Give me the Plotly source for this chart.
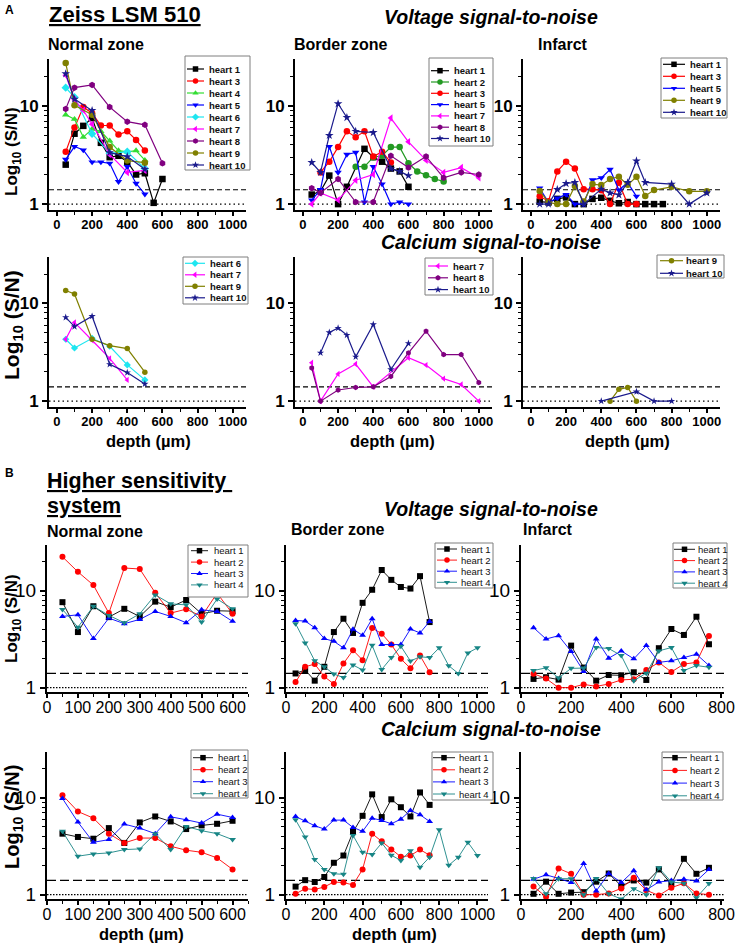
import plotly.graph_objects as go

W, H = 739, 943
FONT = "Liberation Sans, Arial, sans-serif"

# ---------------- reference levels ----------------
THRESH = 1.4
UNITY = 1.0

# ---------------- data: (A) Zeiss LSM 510 ----------------
a_volt_normal = {
    "heart 1": ([50, 100, 150, 200, 250, 300, 350, 400, 450, 500, 550, 600],
                [2.52, 5.2, 6.25, 7.5, 4.2, 3.0, 3.1, 2.7, 2.0, 2.06, 1.03, 1.8]),
    "heart 3": ([50, 100, 150, 200, 250, 300, 350, 400, 450, 500],
                [3.4, 6.0, 9.7, 8.4, 6.3, 6.3, 5.1, 5.5, 4.5, 3.5]),
    "heart 4": ([50, 100, 150, 200, 250, 300, 350, 400, 450, 500],
                [8.1, 7.3, 4.8, 5.8, 5.5, 4.4, 3.5, 3.4, 3.5, 2.8]),
    "heart 5": ([50, 100, 150, 200, 250, 300, 350, 400, 450, 500],
                [2.85, 3.85, 3.55, 2.68, 2.68, 2.6, 1.69, 2.4, 1.62, 1.26]),
    "heart 6": ([50, 100, 200, 300, 400, 500],
                [15.3, 12.2, 5.2, 3.3, 3.4, 2.3]),
    "heart 7": ([50, 100, 150, 200, 300, 400, 500],
                [20.5, 11.5, 9.0, 6.5, 3.2, 2.1, 2.2]),
    "heart 8": ([50, 100, 200, 300, 400, 500, 600],
                [9.3, 15.3, 16.3, 9.7, 6.9, 6.4, 2.6]),
    "heart 9": ([50, 100, 200, 300, 400, 500],
                [27.3, 10.1, 8.1, 3.8, 2.77, 2.64]),
    "heart 10": ([50, 100, 200, 300, 400, 500],
                 [21.2, 11.7, 8.95, 3.34, 3.04, 2.26]),
}

a_volt_border = {
    "heart 1": ([50, 100, 150, 200, 250, 350, 400, 450, 500, 550, 600],
                [1.25, 1.35, 1.95, 1.0, 1.5, 3.65, 3.0, 2.7, 2.3, 2.15, 1.5]),
    "heart 2": ([300, 350, 400, 450, 500, 550, 600, 650, 700, 750, 800],
                [2.4, 2.4, 3.0, 3.1, 3.8, 3.8, 2.6, 2.15, 1.97, 1.8, 1.7]),
    "heart 3": ([100, 150, 200, 250, 300, 350, 400, 450, 500],
                [2.1, 2.7, 3.8, 5.5, 4.8, 5.5, 3.05, 3.4, 2.65]),
    "heart 5": ([50, 100, 150, 200, 250, 300, 350, 400, 450, 500, 550, 600],
                [1.1, 1.4, 3.85, 2.1, 3.2, 3.35, 1.05, 2.4, 1.6, 1.0, 1.05, 1.0]),
    "heart 7": ([50, 100, 200, 300, 400, 500, 600, 700, 800, 900, 1000],
                [1.0, 1.3, 1.1, 1.75, 2.0, 7.5, 4.3, 2.8, 2.1, 2.35, 1.85]),
    "heart 8": ([50, 100, 200, 300, 400, 500, 600, 700, 800, 900, 1000],
                [1.45, 1.3, 1.8, 1.05, 1.05, 3.1, 2.35, 3.05, 1.85, 2.1, 2.0]),
    "heart 10": ([50, 100, 150, 200, 250, 300, 400, 500, 550, 600],
                 [2.65, 2.1, 5.0, 10.5, 7.6, 5.5, 5.35, 2.3, 2.15, 1.95]),
}

a_volt_infarct = {
    "heart 1": ([50, 100, 150, 200, 250, 300, 350, 400, 450, 500, 550, 600, 650, 700, 750],
                [1.06, 1.04, 1.13, 1.17, 1.0, 1.0, 1.13, 1.16, 1.08, 1.02, 1.05, 1.0, 1.0, 1.0, 1.0]),
    "heart 3": ([50, 100, 150, 200, 250, 300, 350, 400, 450, 500, 550, 600],
                [1.2, 1.07, 2.15, 2.7, 2.3, 1.42, 1.42, 1.38, 1.0, 1.65, 1.0, 1.0]),
    "heart 5": ([50, 100, 150, 200, 250, 300, 350, 400, 450, 500, 550, 600],
                [1.45, 1.04, 1.15, 1.25, 1.0, 1.0, 1.76, 1.85, 2.25, 1.39, 1.65, 1.2]),
    "heart 9": ([50, 100, 150, 200, 250, 300, 350, 400, 450, 500, 550, 600, 650, 700, 800, 900, 1000],
                [1.36, 1.04, 1.0, 1.0, 1.53, 1.06, 1.6, 1.56, 1.8, 1.9, 1.57, 1.9, 1.21, 1.39, 1.5, 1.35, 1.35]),
    "heart 10": ([50, 100, 150, 200, 250, 300, 400, 450, 500, 550, 600, 650, 800, 900, 1000],
                 [1.0, 1.0, 1.41, 1.62, 1.66, 1.0, 1.42, 1.3, 1.24, 1.65, 2.75, 1.66, 1.6, 1.0, 1.3]),
}

a_calc_normal = {
    "heart 6": ([50, 100, 200, 300, 400, 500], [4.3, 3.5, 4.4, 3.65, 2.35, 1.65]),
    "heart 7": ([50, 100, 200, 300, 400], [4.3, 6.4, 4.2, 2.74, 1.65]),
    "heart 9": ([50, 100, 200, 300, 400, 500], [13.6, 12.5, 4.3, 3.7, 3.45, 1.98]),
    "heart 10": ([50, 100, 200, 300, 400, 500], [7.2, 5.8, 7.4, 2.38, 1.96, 1.5]),
}

a_calc_border = {
    "heart 7": ([50, 100, 200, 300, 400, 600, 700, 800, 900, 1000],
                [2.47, 1.0, 1.9, 2.4, 1.4, 2.78, 2.34, 1.7, 1.48, 1.0]),
    "heart 8": ([50, 100, 200, 300, 400, 500, 600, 700, 800, 900, 1000],
                [2.19, 1.0, 1.3, 1.38, 1.4, 1.79, 3.12, 5.2, 3.0, 3.0, 1.55]),
    "heart 10": ([100, 150, 200, 250, 300, 400, 500, 600],
                 [3.12, 5.05, 5.6, 4.74, 2.84, 6.1, 2.11, 3.9]),
}

a_calc_infarct = {
    "heart 9": ([450, 500, 550, 600], [1.0, 1.32, 1.38, 1.0]),
    "heart 10": ([400, 600, 700, 800], [1.0, 1.25, 1.0, 1.0]),
}

# ---------------- data: (B) Higher sensitivity system ----------------
B_D600 = [50, 100, 150, 200, 250, 300, 350, 400, 450, 500, 550, 600]
B_D750 = [50, 100, 150, 200, 250, 300, 350, 400, 450, 500, 550, 600, 650, 700, 750]
B_D1000 = [50, 100, 150, 200, 250, 300, 350, 400, 450, 500,
           550, 600, 650, 700, 750, 800, 850, 900, 950, 1000]

b_volt_normal = {
    "heart 1": (B_D600, [7.6, 3.74, 6.9, 5.33, 6.49, 5.4, 7.7, 6.75, 8.0, 5.77, 6.2, 6.14]),
    "heart 2": (B_D600, [22.3, 15.6, 11.4, 5.86, 17.1, 16.7, 9.5, 5.86, 6.44, 5.42, 9.4, 5.77]),
    "heart 3": (B_D600, [5.42, 5.63, 3.2, 5.21, 4.56, 5.05, 6.1, 5.42, 4.67, 6.34, 6.1, 4.82]),
    "heart 4": (B_D600, [6.39, 4.2, 6.9, 5.55, 4.67, 5.77, 9.03, 7.3, 7.13, 4.74, 8.2, 6.49]),
}

b_volt_border = {
    "heart 1": (B_D750, [1.4, 1.52, 1.18, 1.64, 3.74, 5.13, 3.66, 7.48, 10.2, 16.3, 12.9, 10.9, 10.5, 14.1, 4.74]),
    "heart 2": (B_D750, [1.14, 1.64, 1.75, 1.3, 1.09, 1.77, 2.43, 1.92, 4.11, 3.6, 2.78, 1.98, 1.58, 2.14, 1.44]),
    "heart 3": (B_D750, [4.93, 4.85, 4.15, 3.2, 3.0, 2.57, 3.99, 3.46, 5.13, 2.78, 2.78, 2.78, 4.02, 3.66, 4.81]),
    "heart 4": (B_D1000, [4.56, 2.89, 1.89, 1.64, 1.38, 1.27, 1.71, 1.52, 2.73, 1.54,
                          2.04, 2.67, 1.88, 2.08, 2.04, 2.57, 1.68, 1.4, 2.28, 2.57]),
}

b_volt_infarct = {
    "heart 1": (B_D750, [1.23, 1.28, 1.21, 2.71, 1.61, 1.18, 1.35, 1.34, 1.44, 1.2, 2.55, 4.02, 3.49, 5.38, 2.8]),
    "heart 2": (B_D750, [1.39, 1.24, 1.0, 1.0, 1.08, 1.03, 1.09, 1.2, 1.22, 1.52, 1.82, 1.45, 1.75, 1.82, 3.41]),
    "heart 3": (B_D750, [4.15, 3.17, 3.43, 2.36, 1.47, 3.17, 2.01, 2.39, 1.98, 2.71, 1.82, 1.89, 2.04, 2.21, 1.69]),
    "heart 4": (B_D750, [1.5, 1.6, 1.26, 1.58, 1.59, 2.59, 2.53, 2.14, 1.18, 1.41, 2.39, 2.59, 1.5, 1.69, 1.62]),
}

b_calc_normal = {
    "heart 1": (B_D600, [4.25, 3.93, 3.77, 4.85, 3.41, 5.55, 6.39, 5.68, 4.74, 5.17, 5.37, 5.77]),
    "heart 2": (B_D600, [10.6, 7.19, 6.14, 4.25, 3.41, 3.83, 3.83, 3.15, 2.87, 2.73, 2.39, 1.82]),
    "heart 3": (B_D600, [9.8, 5.59, 3.46, 3.69, 5.33, 4.85, 4.25, 6.34, 5.91, 5.46, 6.75, 6.24]),
    "heart 4": (B_D600, [4.49, 2.49, 2.63, 2.69, 2.91, 2.96, 4.25, 2.91, 5.05, 4.56, 4.25, 3.69]),
}

b_calc_border = {
    "heart 1": (B_D750, [1.21, 1.41, 1.35, 1.52, 2.13, 2.53, 4.42, 6.49, 10.8, 6.3, 9.6, 7.96, 6.39, 11.3, 8.41]),
    "heart 2": (B_D750, [1.02, 1.15, 1.13, 1.2, 1.35, 1.33, 1.26, 1.82, 4.25, 3.54, 2.91, 2.45, 2.53, 2.91, 2.55]),
    "heart 3": (B_D750, [6.39, 5.77, 5.13, 4.74, 5.86, 5.86, 4.93, 4.49, 6.14, 5.82, 5.37, 6.0, 7.36, 6.65, 5.68]),
    "heart 4": (B_D1000, [5.91, 3.93, 2.3, 1.82, 1.64, 1.62, 4.08, 2.73, 2.59, 3.41,
                          2.55, 2.25, 2.84, 1.92, 2.43, 4.67, 2.01, 2.43, 3.46, 2.53]),
}

b_calc_infarct = {
    "heart 1": (B_D750, [1.02, 1.36, 1.02, 1.05, 1.06, 1.36, 1.65, 1.23, 1.4, 1.33, 1.82, 1.28, 2.34, 1.64, 1.89]),
    "heart 2": (B_D750, [1.21, 0.95, 1.86, 1.64, 1.0, 1.0, 1.03, 1.16, 1.49, 1.11, 0.98, 1.18, 1.31, 1.03, 1.0]),
    "heart 3": (B_D750, [1.44, 1.6, 1.47, 1.33, 2.09, 1.09, 1.65, 1.33, 1.76, 1.12, 1.35, 1.4, 1.44, 1.38, 1.82]),
    "heart 4": (B_D750, [1.47, 1.02, 1.46, 1.46, 1.0, 1.47, 1.02, 0.9, 1.15, 1.0, 1.89, 1.35, 1.31, 0.93, 1.3]),
}

# ---------------- styles ----------------
A_STYLE = {
    "heart 1": ("#000000", "square"),
    "heart 2": ("#229922", "circle"),
    "heart 3": ("#FF0000", "circle"),
    "heart 4": ("#33DD33", "triangle-up"),
    "heart 5": ("#0000FF", "triangle-down"),
    "heart 6": ("#1EE6F0", "diamond"),
    "heart 7": ("#FF00FF", "triangle-left"),
    "heart 8": ("#800080", "hexagon"),
    "heart 9": ("#808000", "circle"),
    "heart 10": ("#1A1A8C", "star"),
}
B_STYLE = {
    "heart 1": ("#000000", "square"),
    "heart 2": ("#FF0000", "circle"),
    "heart 3": ("#0000FF", "triangle-up"),
    "heart 4": ("#178585", "triangle-down"),
}

# ---------------- layout (pixels) ----------------
A_COLS = [(49, 246), (295, 492), (523, 720)]
A_ROWS = [(59, 210), (257, 407)]
B_COLS = [(47, 248), (286, 488), (521, 724)]
B_ROWS = [(545, 692), (752, 899)]
A_XRANGE = [-45, 1075]
B_XRANGES = [[0, 650], [0, 1055], [0, 810]]
A_YRANGE = [-0.06, 1.476]
B_YRANGE = [-0.045, 1.47]
A_XTICKS = list(range(0, 1001, 200))
A_XMINOR = list(range(100, 1000, 200))
B_XTICKS = [list(range(0, 601, 100)), list(range(0, 1001, 200)), list(range(0, 801, 200))]
B_XMINOR = [list(range(50, 651, 100)), list(range(100, 1001, 200)), list(range(100, 801, 200))]
Y_TICKS = [1, 10]
Y_MINOR = [2, 3, 4, 5, 6, 7, 8, 9, 20]

# legend boxes: x0, y0, x1, y1, first entry y, pitch, sample x0, sample x1, text x
PANELS = [
    (a_volt_normal, "A", 0, 0, (185, 56, 250, 170, 69, 12, 187, 204, 208)),
    (a_volt_border, "A", 1, 0, (429, 58, 493, 146, 70.7, 11.3, 431, 449, 453)),
    (a_volt_infarct, "A", 2, 0, (661, 58, 727, 118, 64.3, 12, 663, 685, 689)),
    (a_calc_normal, "A", 0, 1, (183, 257, 248, 304, 263.3, 11.5, 185, 205, 209)),
    (a_calc_border, "A", 1, 1, (425, 258, 493, 295, 266, 11.8, 428, 448, 452)),
    (a_calc_infarct, "A", 2, 1, (657, 255, 724, 278, 260.7, 12.6, 660, 683, 685)),
    (b_volt_normal, "B", 0, 0, (188, 545, 248, 597, 550.7, 11.4, 191, 208, 213)),
    (b_volt_border, "B", 1, 0, (435, 543, 493, 588, 549, 11.1, 437, 457, 460)),
    (b_volt_infarct, "B", 2, 0, (673, 543, 727, 588, 549.3, 11.3, 674, 695, 697)),
    (b_calc_normal, "B", 0, 1, (191, 750, 248, 798, 757.7, 12, 193, 213, 217)),
    (b_calc_border, "B", 1, 1, (432, 752, 493, 800, 757.7, 12.1, 433, 455, 458)),
    (b_calc_infarct, "B", 2, 1, (662, 752, 723, 800, 757.7, 12.7, 663, 687, 689)),
]

fig = go.Figure()
layout = {}
shapes = []
annotations = []


def ann(text, x, y, size, weight="bold", style="normal", xanchor="left",
        angle=0, under=False, color="black", pad=1):
    font = dict(family=FONT, size=size, color=color, weight=weight, style=style)
    if under:
        font["lineposition"] = "under"
    annotations.append(dict(text=text, x=x, y=y, xref="x13", yref="y13",
                            xanchor=xanchor, yanchor="middle", showarrow=False,
                            textangle=angle, font=font, borderpad=pad))


for i, (data, sysname, col, row, leg) in enumerate(PANELS, start=1):
    sfx = "" if i == 1 else str(i)
    if sysname == "A":
        c0, c1 = A_COLS[col]
        r0, r1 = A_ROWS[row]
        xr, yr, xt, xm = A_XRANGE, A_YRANGE, A_XTICKS, A_XMINOR
        style = A_STYLE
        wt = "bold"
        lw, ms = 1.2, (6.5 if row == 0 else 5.5)
        xtf, ytf = 13, 17
        standoff = -3
        dash, dot, reflw = "5px,3px", "1.5px,3px", 1.2
        legsize = 9.5
    else:
        c0, c1 = B_COLS[col]
        r0, r1 = B_ROWS[row]
        xr, yr, xt, xm = B_XRANGES[col], B_YRANGE, B_XTICKS[col], B_XMINOR[col]
        style = B_STYLE
        wt = "normal"
        lw, ms = 0.9, 6
        xtf, ytf = 16, 19
        standoff = -4
        dash, dot, reflw = "9px,4px", "1.5px,1.5px", 1.2
        legsize = 9.5

    layout["xaxis" + sfx] = dict(
        domain=[c0 / W, c1 / W], range=xr, anchor="y" + sfx, automargin=False,
        showline=True, linecolor="black", linewidth=2, mirror=False,
        ticks="outside", ticklen=4, tickwidth=1.5, tickcolor="black",
        tickmode="array", tickvals=xt, ticktext=[str(v) for v in xt], tickangle=0,
        ticklabelstandoff=standoff,
        minor=dict(tickmode="array", tickvals=xm, ticks="outside", ticklen=3,
                   tickwidth=1.2, tickcolor="black"),
        showgrid=False, zeroline=False, fixedrange=True,
        tickfont=dict(family=FONT, size=xtf, color="black", weight=wt),
    )
    layout["yaxis" + sfx] = dict(
        domain=[1 - r1 / H, 1 - r0 / H], type="log", range=yr, anchor="x" + sfx,
        automargin=False,
        showline=True, linecolor="black", linewidth=2,
        ticks="outside", ticklen=5, tickwidth=1.5, tickcolor="black",
        tickmode="array", tickvals=Y_TICKS, ticktext=[str(v) for v in Y_TICKS],
        minor=dict(tickmode="array", tickvals=Y_MINOR, ticks="outside", ticklen=3,
                   tickwidth=1.2, tickcolor="black"),
        showgrid=False, zeroline=False, fixedrange=True,
        tickfont=dict(family=FONT, size=ytf, color="black", weight=wt),
    )

    xa, ya = "x" + sfx, "y" + sfx
    fig.add_trace(go.Scatter(x=xr, y=[THRESH, THRESH], mode="lines",
                             line=dict(color="black", width=reflw, dash=dash),
                             xaxis=xa, yaxis=ya, hoverinfo="skip", showlegend=False))
    fig.add_trace(go.Scatter(x=xr, y=[UNITY, UNITY], mode="lines",
                             line=dict(color="black", width=reflw, dash=dot),
                             xaxis=xa, yaxis=ya, hoverinfo="skip", showlegend=False))
    for name, (d, v) in data.items():
        color, sym = style[name]
        fig.add_trace(go.Scatter(x=d, y=v, mode="lines+markers", name=name,
                                 line=dict(color=color, width=lw),
                                 marker=dict(symbol=sym, size=ms, color=color,
                                             line=dict(width=0)),
                                 xaxis=xa, yaxis=ya, showlegend=False))

    # hand-drawn legend box
    bx0, by0, bx1, by1, fy, pitch, lx0, lx1, tx = leg
    shapes.append(dict(type="rect", xref="x13", yref="y13", x0=bx0, y0=by0, x1=bx1, y1=by1,
                       line=dict(color="#7f7f7f", width=1), fillcolor="white", layer="below"))
    for k, name in enumerate(data.keys()):
        color, sym = style[name]
        yy = fy + k * pitch
        fig.add_trace(go.Scatter(x=[lx0, lx1], y=[yy, yy], mode="lines",
                                 line=dict(color=color, width=lw),
                                 xaxis="x13", yaxis="y13", hoverinfo="skip", showlegend=False))
        fig.add_trace(go.Scatter(x=[(lx0 + lx1) / 2], y=[yy], mode="markers",
                                 marker=dict(symbol=sym, size=5.5, color=color, line=dict(width=0)),
                                 xaxis="x13", yaxis="y13", hoverinfo="skip", showlegend=False))
        ann(name, tx, yy, legsize, weight=wt, color="#111111", pad=0)

# overlay (pixel) axes for titles and legends
layout["xaxis13"] = dict(domain=[0, 1], range=[0, W], visible=False, fixedrange=True,
                         anchor="y13", automargin=False)
layout["yaxis13"] = dict(domain=[0, 1], range=[H, 0], visible=False, fixedrange=True,
                         anchor="x13", automargin=False)

# ---- texts ----
ann("A", 3, 10, 12)
ann("Zeiss LSM 510", 47, 14, 22, under=True)
ann("Voltage signal-to-noise", 491, 17, 19.5, style="italic", xanchor="center")
ann("Normal zone", 46, 44, 16)
ann("Border zone", 292, 44, 16)
ann("Infarct", 536, 44, 16)
ann("Calcium signal-to-noise", 491, 242, 19.5, style="italic", xanchor="center", pad=0)
ann("B", 3, 473, 12)
ann("Higher sensitivity ", 45, 481, 21.5, under=True)
ann("system", 45, 506, 21.5, under=True)
ann("Voltage signal-to-noise", 491, 509, 19.5, style="italic", xanchor="center", pad=0)
ann("Normal zone", 45, 531, 16)
ann("Border zone", 290, 529, 16, pad=0)
ann("Infarct", 522, 529.5, 16, pad=0)
ann("Calcium signal-to-noise", 491, 729, 19.5, style="italic", xanchor="center")

for cx in (148, 392, 627):
    ann("depth (µm)", cx, 441, 16.5, xanchor="center", pad=0)
for cx in (141, 394, 623):
    ann("depth (µm)", cx, 934, 16.5, xanchor="center", pad=0)

YT = "Log<sub>10</sub> (S/N)"
ann(YT, 13, 152, 17, angle=-90, xanchor="center")
ann(YT, 13, 325, 21, angle=-90, xanchor="center")
ann(YT, 13, 619, 17, angle=-90, xanchor="center")
ann(YT, 13, 817, 20, angle=-90, xanchor="center")

fig.update_layout(
    width=W, height=H, margin=dict(l=0, r=0, t=0, b=0, autoexpand=False),
    paper_bgcolor="white", plot_bgcolor="rgba(0,0,0,0)",
    showlegend=False, shapes=shapes, annotations=annotations,
    font=dict(family=FONT, color="black"),
    **layout,
)

fig.write_html("out.html", config={"displayModeBar": False},
               post_script="document.body.style.margin='0px';document.body.style.padding='0px';")
